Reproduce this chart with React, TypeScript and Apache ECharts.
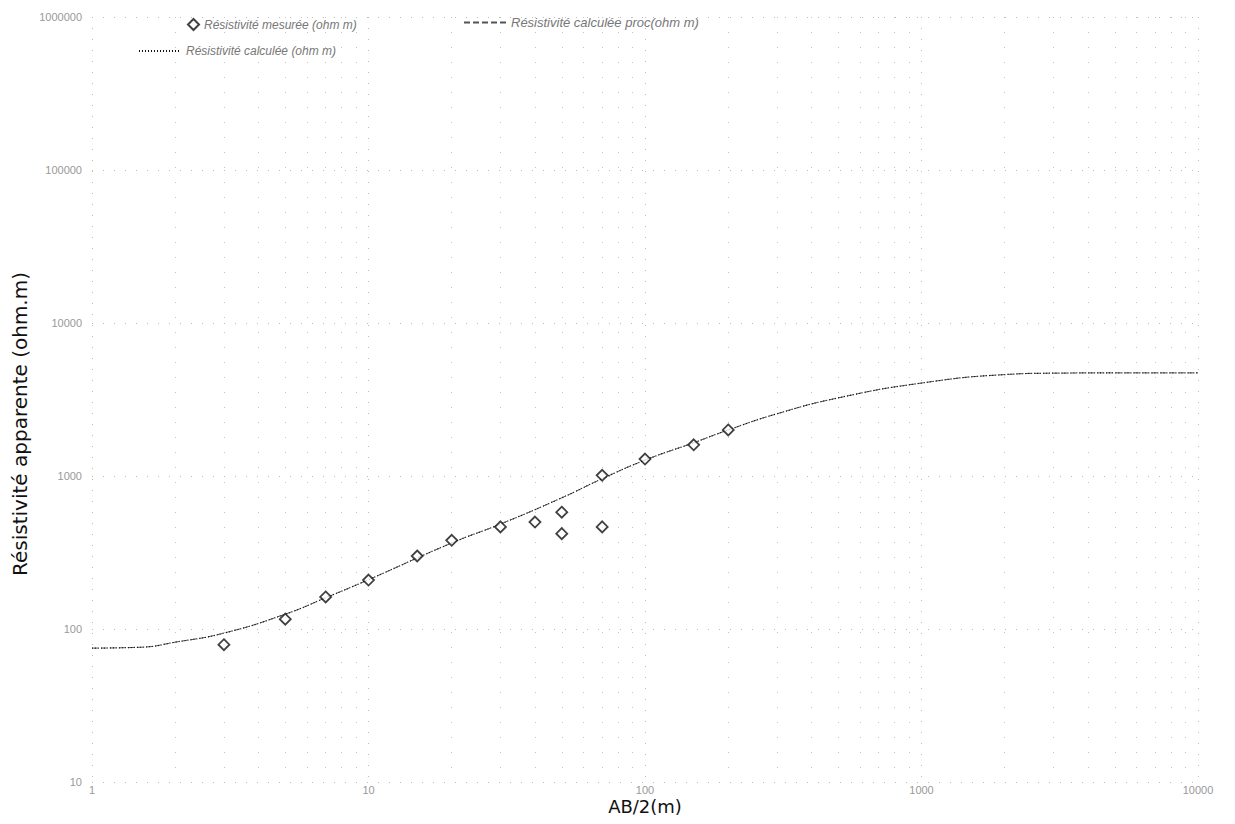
import React, { useEffect, useRef } from "react";
import * as echarts from "echarts";

// Measured apparent resistivity (AB/2 in m, rho in ohm.m)
const measuredAB2 = [3, 5, 7, 10, 15, 20, 30, 40, 50, 50, 70, 70, 100, 150, 200];
const measuredRho = [79, 116, 162, 209, 300, 380, 465, 500, 580, 420, 1010, 465, 1290, 1600, 2000];

// Calculated curve
const calcAB2 = [1, 1.5, 2, 3, 5, 7, 10, 20, 30, 50, 70, 100, 150, 200, 300, 500, 1000, 2000, 3000, 5000, 10000];
const calcRho = [75, 76, 82, 94, 125, 160, 210, 365, 485, 720, 960, 1270, 1650, 2000, 2550, 3240, 4050, 4600, 4700, 4720, 4720];

const NAME_MEAS = "Résistivité mesurée (ohm m)";
const NAME_PROC = "Résistivité calculée proc(ohm m)";
const NAME_CALC = "Résistivité calculée (ohm m)";

const FONT = "Liberation Sans";

export default function App() {
  const ref = useRef<HTMLDivElement>(null);
  useEffect(() => {
    if (!ref.current) return;
    const chart = echarts.init(ref.current, null, { renderer: "svg" });
    const pairs = (xs: number[], ys: number[]) => xs.map((x, i) => [x, ys[i]]);
    const tickFmt = (v: number) => String(Math.round(v));
    const legendText = { color: "#777", fontStyle: "italic", fontSize: 12, fontFamily: FONT };
    chart.setOption({
      animation: false,
      backgroundColor: "#ffffff",
      textStyle: { fontFamily: FONT },
      grid: { left: 92, right: 37, top: 17, bottom: 42 },
      legend: [
        {
          data: [{ name: NAME_MEAS, icon: "diamond" }],
          left: 182,
          top: 13,
          itemWidth: 11,
          itemHeight: 11,
          textStyle: legendText,
        },
        {
          data: [NAME_PROC],
          left: 458,
          top: 11,
          itemWidth: 42,
          itemHeight: 12,
          itemStyle: { opacity: 0 },
          textStyle: { ...legendText, fontSize: 13 },
        },
        {
          data: [NAME_CALC],
          left: 133,
          top: 40,
          itemWidth: 42,
          itemHeight: 12,
          itemStyle: { opacity: 0 },
          textStyle: legendText,
        },
      ],
      xAxis: {
        type: "log",
        logBase: 10,
        min: 1,
        max: 10000,
        name: "AB/2(m)",
        nameLocation: "middle",
        nameGap: 24,
        nameMoveOverlap: false,
        nameTextStyle: { color: "#111", fontSize: 18, fontFamily: "DejaVu Sans", verticalAlign: "middle" },
        axisLine: { show: false },
        axisTick: { show: false },
        axisLabel: { color: "#999", fontSize: 11, margin: 2, formatter: tickFmt },
        splitLine: { show: true, lineStyle: { color: "#bbb", type: [1, 10], width: 1 } },
        minorTick: { show: false, splitNumber: 9 },
        minorSplitLine: { show: true, lineStyle: { color: "#c4c4c4", type: [1, 14], width: 1 } },
      },
      yAxis: {
        type: "log",
        logBase: 10,
        min: 10,
        max: 1000000,
        axisLine: { show: false },
        axisTick: { show: false },
        axisLabel: { color: "#999", fontSize: 11, margin: 10, formatter: tickFmt },
        splitLine: { show: true, lineStyle: { color: "#bbb", type: [1, 10], width: 1 } },
        minorSplitLine: { show: false },
      },
      graphic: [
        {
          type: "text",
          x: 20,
          y: 424,
          rotation: Math.PI / 2,
          style: {
            text: "Résistivité apparente (ohm.m)",
            fill: "#111",
            fontSize: 20,
            fontFamily: "DejaVu Sans",
            textAlign: "center",
            textVerticalAlign: "middle",
          },
        },
      ],
      series: [
        {
          name: NAME_MEAS,
          type: "scatter",
          data: pairs(measuredAB2, measuredRho),
          symbol: "diamond",
          symbolSize: 11,
          itemStyle: { color: "#ffffff", borderColor: "#111", borderWidth: 1.8 },
          z: 5,
        },
        {
          name: NAME_PROC,
          type: "line",
          data: pairs(calcAB2, calcRho),
          smooth: 0.5,
          showSymbol: false,
          symbol: "none",
          itemStyle: { color: "#555" },
          lineStyle: { color: "#555", width: 1, type: [6, 3] },
        },
        {
          name: NAME_CALC,
          type: "line",
          data: pairs(calcAB2, calcRho),
          smooth: 0.5,
          showSymbol: false,
          symbol: "none",
          itemStyle: { color: "#111" },
          lineStyle: { color: "#111", width: 1.2, type: [1, 2] },
        },
      ],
    });
    return () => chart.dispose();
  }, []);
  return <div ref={ref} style={{ width: 1235, height: 824, margin: -8 }} />;
}
